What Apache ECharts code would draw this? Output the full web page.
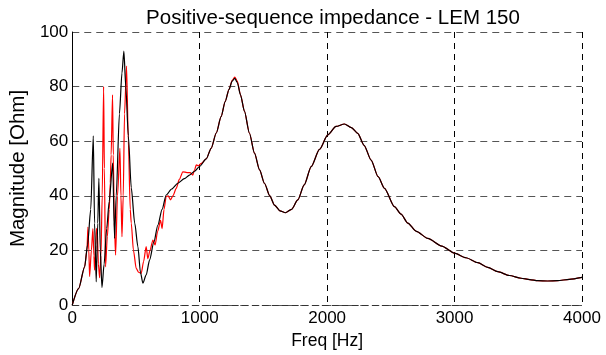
<!DOCTYPE html>
<html>
<head>
<meta charset="utf-8">
<script src="https://cdn.jsdelivr.net/npm/echarts@6/dist/echarts.min.js"></script>
<style>html,body{margin:0;padding:0;background:#fff;}#c{width:606px;height:355px;}</style>
</head>
<body>
<div id="c"></div>
<script>
var titleText = "Positive-sequence impedance - LEM 150";
var xTicks = [0, 1000, 2000, 3000, 4000];
var yTicks = [0, 20, 40, 60, 80, 100];

// Black curve (frequency [Hz], magnitude [Ohm])
var blackFreq = [0,50,97,120,145,165,175,188,200,209,220,233,250,270,290,317,332,345,370,390,405,420,440,463,490,515,535,554,580,607,640,672,705,737,780,829,880,920,960,998,1051,1090,1130,1168,1200,1230,1255,1275,1295,1320,1351,1390,1430,1470,1508,1550,1587,1630,1673,1720,1770,1820,1875,1940,2005,2070,2136,2190,2240,2290,2345,2400,2450,2528,2580,2633,2700,2790,2900,2998,3090,3182,3260,3339,3430,3522,3590,3653,3730,3809,3900,4000];
var blackMag = [0,6,14,22,35,62,30,8.5,30,46.4,20,6.4,15,28,38,52,24.4,40,70,85,93,80,62,43,30,21.4,12,8,11,16.5,23,29.3,35,40.3,42.5,44.6,46.3,47.6,49,50.7,53.5,57.4,63,69,74.5,79,82,83,81.5,77,71,63,55.6,49.5,44.6,40,36.6,34.5,33.8,35,38.5,44,50.7,57,62.3,65.4,66.3,65,62.9,58.5,53.1,47,42.7,36,33.3,30,27,24.4,21.6,19,17.3,15.5,13.8,12.2,10.8,9.8,9.3,8.9,8.8,8.9,9.4,10.1];

// Red curve (frequency [Hz], magnitude [Ohm])
var redFreq = [0,50,97,115,123,130,136,150,162,170,175,185,190,196,205,215,225,235,246,252,261,275,290,298,305,316,322,330,340,355,374,382,390,400,410,426,440,455,463,480,502,520,541,560,580,593,610,633,650,670,693,705,720,737,752,771,790,816,840,868,900,925,946,960,973,990,1010,1051,1090,1130,1168,1200,1230,1255,1275,1295,1320,1351,1390,1430,1470,1508,1550,1587,1630,1673,1720,1770,1820,1875,1940,2005,2070,2136,2190,2240,2290,2345,2400,2450,2528,2580,2633,2700,2790,2900,2998,3090,3182,3260,3339,3430,3522,3590,3653,3730,3809,3900,4000];
var redMag = [0,6,14,20,28.5,20,10.4,20,28,18,12.8,22,28,27.7,15,10,18,40,80,50,14,25,35,44.7,55,77,55,30,18.3,40,57.4,40,25,40,70,87.5,60,35,30,20,13.4,12,11.6,16,21.4,17,20,23.8,22,27,31,28,35,39.7,40,38.5,40,42.7,46,48.8,48.5,48.5,47.6,49.5,51.3,51,51.8,53.5,57.4,63,69,74.5,79,82.3,83.5,82,77,71,63,55.6,49.5,44.6,40,36.6,34.5,33.8,35,38.5,44,50.7,57,62.3,65.4,66.3,65,62.9,58.5,53.1,47,42.7,36,33.3,30,27,24.4,21.6,19,17.3,15.5,13.8,12.2,10.8,9.8,9.3,8.9,8.8,8.9,9.4,10.1];

function pairs(xs, ys) { var o = []; for (var i = 0; i < xs.length; i++) o.push([xs[i], ys[i]]); return o; }

var FONT = 'Liberation Sans, Arial, sans-serif';
var chart = echarts.init(document.getElementById('c'), null, {renderer: 'canvas'});
chart.setOption({
  animation: false,
  backgroundColor: '#fff',
  title: {
    text: titleText, left: 328, top: 3, textAlign: 'center',
    textStyle: {fontFamily: FONT, fontSize: 20.5, fontWeight: 'normal', color: '#000'}
  },
  grid: {left: 70, right: 24, top: 32, bottom: 50, containLabel: false},
  xAxis: {
    type: 'value', min: xTicks[0], max: xTicks[xTicks.length - 1], interval: 1000,
    name: 'Freq [Hz]', nameLocation: 'middle', nameGap: 27,
    nameTextStyle: {fontFamily: FONT, fontSize: 17.5, color: '#000'},
    axisLine: {show: true, lineStyle: {color: '#333', width: 1, type: [6, 4]}},
    axisTick: {show: false},
    axisLabel: {fontFamily: FONT, fontSize: 17, color: '#000', margin: 5,
      formatter: function (v) { return String(v); }},
    splitLine: {show: true, lineStyle: {color: '#000', width: 1, type: [6, 5]}}
  },
  yAxis: {
    type: 'value', min: yTicks[0], max: yTicks[yTicks.length - 1], interval: 20,
    name: 'Magnitude [Ohm]', nameLocation: 'middle', nameGap: 35,
    nameTextStyle: {fontFamily: FONT, fontSize: 20.5, color: '#000'},
    axisLine: {show: true, lineStyle: {color: '#000', width: 1}},
    axisTick: {show: false},
    axisLabel: {fontFamily: FONT, fontSize: 17, color: '#000', margin: 4},
    splitLine: {show: true, lineStyle: {color: '#555', width: 1.2, type: [7, 5]}}
  },
  series: [
    {type: 'line', data: pairs(redFreq, redMag), showSymbol: false, symbol: 'none',
     smooth: 0.25, smoothMonotone: 'x',
     lineStyle: {color: '#ff0000', width: 1.2}, z: 2},
    {type: 'line', data: pairs(blackFreq, blackMag), showSymbol: false, symbol: 'none',
     smooth: 0.25, smoothMonotone: 'x',
     lineStyle: {color: '#000000', width: 1.2}, z: 3}
  ]
});
</script>
</body>
</html>
